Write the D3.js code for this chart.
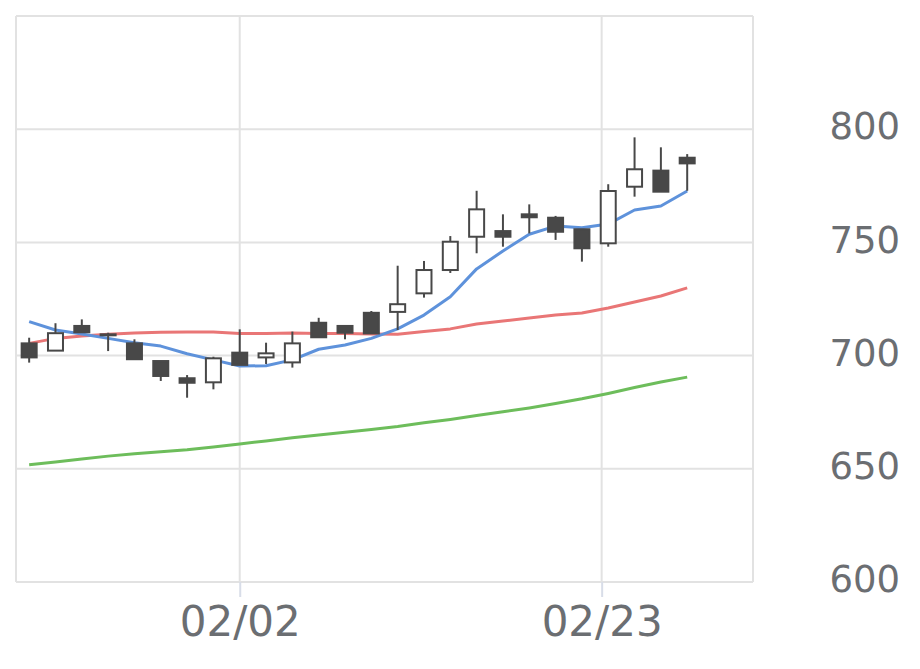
<!DOCTYPE html>
<html>
<head>
<meta charset="utf-8">
<script src="https://cdn.jsdelivr.net/npm/d3@7"></script>
<style>
  body { margin: 0; background: #fff; }
  svg { display: block; font-family: "DejaVu Sans", sans-serif; }
</style>
</head>
<body>
<div id="chart"></div>
<script>
// candle data, one entry per trading day
const dates = ["01/21","01/22","01/25","01/26","01/27","01/28","01/29","02/01","02/02","02/03",
               "02/04","02/05","02/08","02/09","02/10","02/12","02/15","02/16","02/17","02/18",
               "02/19","02/22","02/24","02/25","02/26","03/01"];
const open  = [705.4,702.2,713.1,709.4,705.4,697.6,690.0,688.2,701.3,699.2,
               697.0,714.5,713.1,718.9,719.3,727.5,737.8,752.5,755.0,762.4,
               760.9,755.8,749.6,774.6,781.7,787.4];
const close = [699.2,709.9,710.3,709.2,698.4,691.0,688.0,698.8,695.9,701.0,
               705.4,708.1,710.1,709.8,722.7,737.8,750.3,764.6,752.5,761.1,
               754.7,747.4,772.7,782.3,772.4,784.9];
const high  = [707.9,714.3,716.0,710.1,707.2,697.6,691.4,699.5,711.6,705.7,
               710.6,716.7,713.1,719.7,739.7,741.8,752.8,772.8,762.4,766.8,
               761.7,755.8,775.7,796.4,792.0,789.0];
const low   = [696.9,702.2,710.3,702.0,698.4,688.8,681.4,685.1,695.9,696.3,
               694.7,708.1,707.2,709.8,711.3,725.6,736.5,745.2,748.1,754.0,
               751.1,741.5,748.1,770.2,772.4,772.8];

// moving averages
const ma5  = [715.0,711.3,709.5,707.6,705.7,704.2,700.8,698.1,695.4,695.5,
              698.1,702.8,704.7,707.6,711.8,717.9,726.0,738.3,746.2,753.6,
              757.2,756.5,758.1,764.3,766.1,772.7];
const ma25 = [705.4,707.6,708.7,709.4,710.0,710.3,710.4,710.4,709.8,709.8,
              710.0,709.8,709.8,709.5,709.4,710.6,711.8,714.0,715.3,716.6,
              717.9,718.8,721.0,723.7,726.3,729.9];
const ma75 = [651.8,653.0,654.3,655.6,656.6,657.5,658.4,659.6,661.0,662.3,
              663.7,664.9,666.1,667.4,668.7,670.3,671.8,673.5,675.2,676.9,
              678.8,680.9,683.3,685.9,688.3,690.5];

// axis ticks
const yTicks = [600, 650, 700, 750, 800];
const xTickPos = [8, 21.75];
const xTickLabels = ["02/02", "02/23"];

const width = 920;
const height = 669;
const marginTop = 16;
const marginLeft = 16;
const plotRight = 753;
const plotBottom = 582;

const x = d3.scaleLinear()
    .domain([-0.5, 27.5])
    .range([marginLeft, plotRight]);

const y = d3.scaleLinear()
    .domain([600, 850])
    .range([plotBottom, marginTop]);

const svg = d3.select("#chart").append("svg")
    .attr("width", width)
    .attr("height", height);

// horizontal grid
svg.append("g")
    .selectAll("line")
    .data(yTicks.concat([850]))
    .join("line")
      .attr("x1", marginLeft)
      .attr("x2", plotRight)
      .attr("y1", d => y(d))
      .attr("y2", d => y(d))
      .attr("stroke", "#e2e2e2")
      .attr("stroke-width", 2);

// vertical grid + frame sides
svg.append("g")
    .selectAll("line")
    .data(xTickPos.concat([-0.5, 27.5]))
    .join("line")
      .attr("x1", d => x(d))
      .attr("x2", d => x(d))
      .attr("y1", marginTop)
      .attr("y2", plotBottom)
      .attr("stroke", "#e2e2e2")
      .attr("stroke-width", 2);

// x axis (ticks below the plot)
svg.append("g")
    .attr("transform", `translate(0,${plotBottom})`)
    .call(d3.axisBottom(x)
        .tickValues(xTickPos)
        .tickFormat((d, i) => xTickLabels[i])
        .tickSize(15)
        .tickPadding(9))
    .call(g => g.select(".domain").remove())
    .call(g => g.selectAll(".tick line").attr("stroke", "#d8dde8").attr("stroke-width", 2))
    .call(g => g.selectAll(".tick text")
        .attr("font-family", "DejaVu Sans")
        .attr("font-size", 42)
        .attr("fill", "#6b6e72"));

// y axis on the right
svg.append("g")
    .attr("transform", `translate(900,0)`)
    .call(d3.axisLeft(y)
        .tickValues(yTicks)
        .tickSize(0)
        .tickPadding(0))
    .call(g => g.select(".domain").remove())
    .call(g => g.selectAll(".tick text")
        .attr("font-family", "DejaVu Sans")
        .attr("font-size", 37)
        .attr("dy", "0.26em")
        .attr("fill", "#6b6e72"));

// moving average lines
const maLine = d3.line()
    .x((d, i) => x(i))
    .y(d => y(d));

[[ma75, "#6dbd5b"], [ma25, "#e97676"], [ma5, "#5e92db"]].forEach(([s, c]) => {
  svg.append("path")
      .datum(s)
      .attr("fill", "none")
      .attr("stroke", c)
      .attr("stroke-width", 3)
      .attr("stroke-linejoin", "round")
      .attr("d", maLine);
});

// candles
const candles = dates.map((d, i) => ({i, date: d, o: open[i], c: close[i], h: high[i], l: low[i]}));
const bodyW = 15;

const g = svg.append("g")
    .selectAll("g")
    .data(candles)
    .join("g")
      .attr("transform", d => `translate(${x(d.i)},0)`);

g.append("line")
    .attr("y1", d => y(d.h))
    .attr("y2", d => y(d.l))
    .attr("stroke", "#484848")
    .attr("stroke-width", 2);

g.append("rect")
    .attr("x", -bodyW / 2)
    .attr("width", bodyW)
    .attr("y", d => y(Math.max(d.o, d.c)))
    .attr("height", d => Math.max(1, Math.abs(y(d.o) - y(d.c))))
    .attr("fill", d => d.c >= d.o ? "#ffffff" : "#484848")
    .attr("stroke", "#484848")
    .attr("stroke-width", 2);
</script>
</body>
</html>
